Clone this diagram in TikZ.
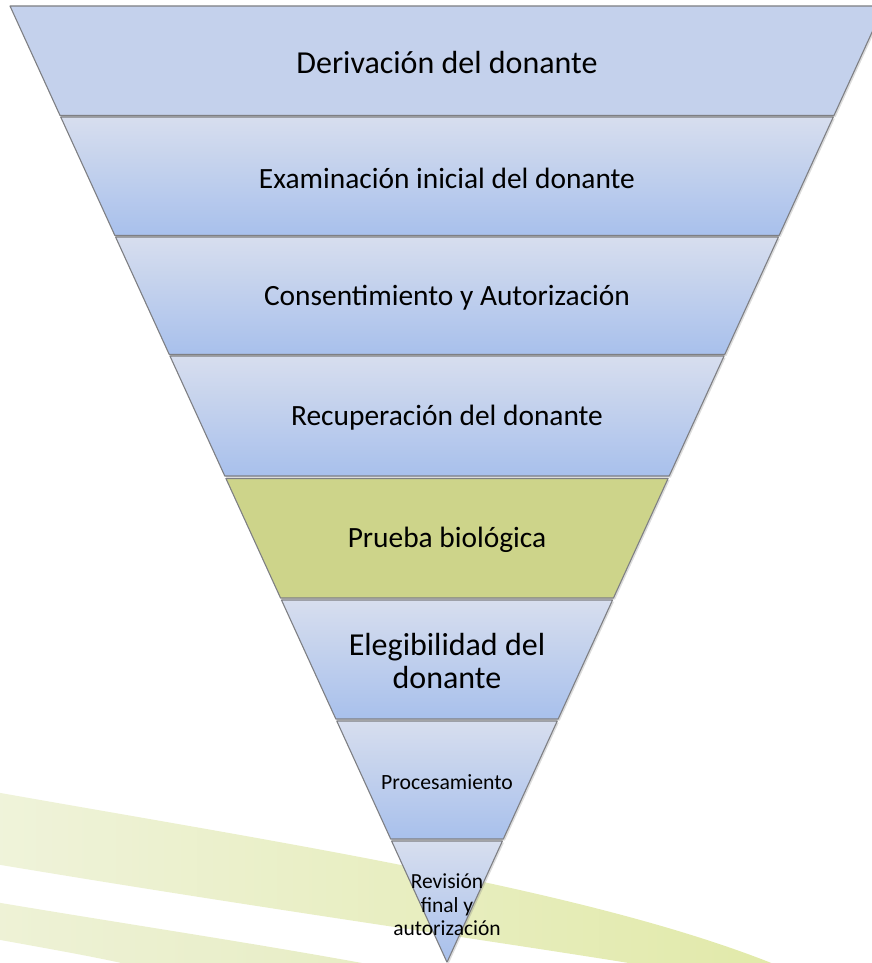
\documentclass[tikz,border=0pt]{standalone}
\usepackage{fontspec}
\setmainfont{Carlito}
\usetikzlibrary{shadows}
\definecolor{edgegray}{HTML}{7E7F83}
\definecolor{bandflat}{HTML}{C4D1EC}
\definecolor{bandtop}{HTML}{D7DEEE}
\definecolor{bandbot}{HTML}{A8C0EC}
\definecolor{bandgreen}{HTML}{CDD48A}
\definecolor{swooshA}{HTML}{EFF3DA}
\definecolor{swooshB}{HTML}{E1E9A8}
\definecolor{swooshC}{HTML}{EEF2D6}
\definecolor{swooshD}{HTML}{E6ECC2}
\newcommand\bandshape[3]{\path[#3] ({10+0.457*(#1-6)},#1) -- ({884-0.457*(#1-6)},#1) -- ({884-0.457*(#2-6)},#2) -- ({10+0.457*(#2-6)},#2) -- cycle;}
\tikzset{
  bandbase/.style={draw=edgegray, line width=1.1pt, line join=round,
    drop shadow={opacity=0.28, shadow xshift=1.6pt, shadow yshift=-1.6pt}},
  bandone/.style={bandbase, fill=bandflat},
  bandblue/.style={bandbase, top color=bandtop, bottom color=bandbot},
  bandgreenstyle/.style={bandbase, fill=bandgreen},
  lbl/.style={align=center, text=black, inner sep=0pt},
  bigtext/.style={lbl, font=\fontsize{29.4}{35}\selectfont},
}
\begin{document}
\begin{tikzpicture}[x=1pt,y=-1pt]
\useasboundingbox (0,0) rectangle (872,963);
\begin{scope}
\clip (0,0) rectangle (872,963);
% background swooshes
\path[left color=swooshA, right color=swooshB]
  (-5,792) .. controls (300,846) and (620,895) .. (800,975)
  -- (700,975) .. controls (560,950) and (300,915) .. (-5,864) -- cycle;
\path[left color=swooshC, right color=swooshD]
  (-5,902) .. controls (150,928) and (300,950) .. (425,975)
  -- (175,975) .. controls (100,958) .. (-5,939) -- cycle;
% bands
\bandshape{6}{115.5}{bandone}
\bandshape{117}{235.5}{bandblue}
\bandshape{237}{354.5}{bandblue}
\bandshape{356}{476}{bandblue}
\bandshape{478.5}{598}{bandgreenstyle}
\bandshape{600}{719}{bandblue}
\bandshape{721}{839}{bandblue}
\bandshape{841}{962}{bandblue}
\end{scope}
% labels
\node[lbl, font=\fontsize{32}{38}\selectfont] (t1) at (447,63) {Derivación del donante};
\node[bigtext] (t2) at (447,178) {Examinación inicial del donante};
\node[bigtext] (t3) at (447,298) {Consentimiento y Autorización};
\node[bigtext] (t4) at (447,418) {Recuperación del donante};
\node[bigtext] (t5) at (447,540) {Prueba biológica};
\node[lbl, font=\fontsize{32}{33}\selectfont] (t6) at (447,661) {Elegibilidad del\\donante};
\node[lbl, font=\fontsize{21.7}{26}\selectfont] (t7) at (447,782) {Procesamiento};
\node[lbl, font=\fontsize{21.5}{23.5}\selectfont] (t8) at (447,905) {Revisión\\final y\\autorización};
\end{tikzpicture}
\end{document}
